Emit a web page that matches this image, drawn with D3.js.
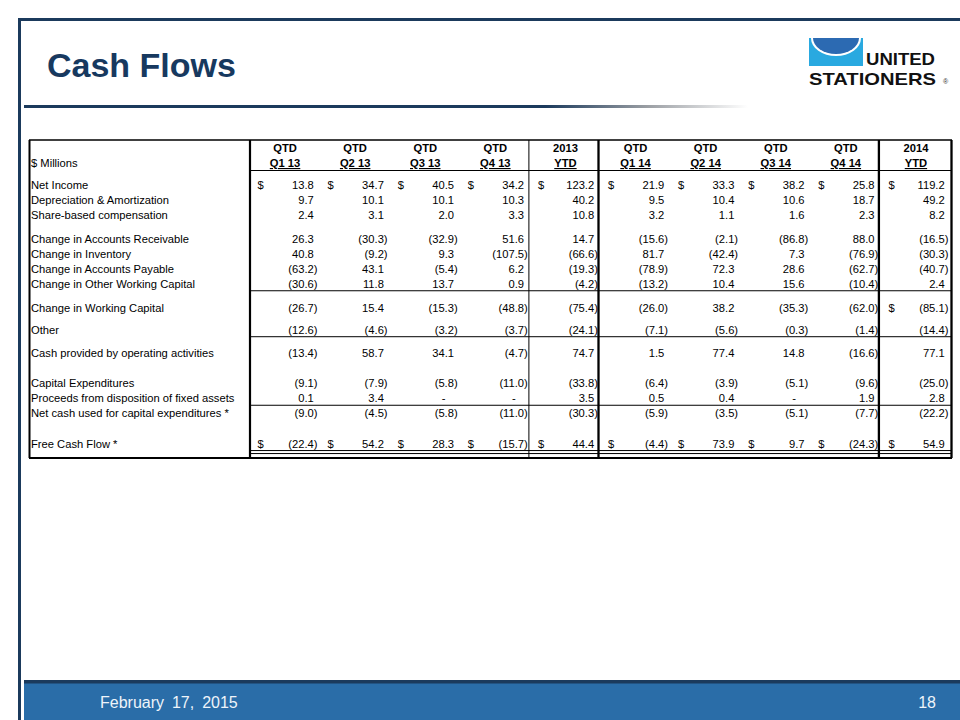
<!DOCTYPE html>
<html><head><meta charset="utf-8">
<script src="https://cdn.jsdelivr.net/npm/d3@7"></script>
<style>
html,body{margin:0;padding:0;background:#fff;}
svg{display:block;font-family:"Liberation Sans",Arial,Helvetica,sans-serif;}
</style></head><body>
<svg id="c" width="960" height="720"></svg>
<script>
// ---------- DATA ----------
const columns = ["Q1 13","Q2 13","Q3 13","Q4 13","2013 YTD","Q1 14","Q2 14","Q3 14","Q4 14","2014 YTD"];
const headerTop = ["QTD","QTD","QTD","QTD","2013","QTD","QTD","QTD","QTD","2014"];
const headerBottom = ["Q1 13","Q2 13","Q3 13","Q4 13","YTD","Q1 14","Q2 14","Q3 14","Q4 14","YTD"];
const rowLabels = [
  "Net Income",
  "Depreciation & Amortization",
  "Share-based compensation",
  "Change in Accounts Receivable",
  "Change in Inventory",
  "Change in Accounts Payable",
  "Change in Other Working Capital",
  "Change in Working Capital",
  "Other",
  "Cash provided by operating activities",
  "Capital Expenditures",
  "Proceeds from disposition of fixed assets",
  "Net cash used for capital expenditures *",
  "Free Cash Flow *"
];
const netIncome        = [13.8, 34.7, 40.5, 34.2, 123.2, 21.9, 33.3, 38.2, 25.8, 119.2];
const depAmort         = [9.7, 10.1, 10.1, 10.3, 40.2, 9.5, 10.4, 10.6, 18.7, 49.2];
const shareComp        = [2.4, 3.1, 2.0, 3.3, 10.8, 3.2, 1.1, 1.6, 2.3, 8.2];
const chgReceivable    = [26.3, -30.3, -32.9, 51.6, 14.7, -15.6, -2.1, -86.8, 88.0, -16.5];
const chgInventory     = [40.8, -9.2, 9.3, -107.5, -66.6, 81.7, -42.4, 7.3, -76.9, -30.3];
const chgPayable       = [-63.2, 43.1, -5.4, 6.2, -19.3, -78.9, 72.3, 28.6, -62.7, -40.7];
const chgOtherWC       = [-30.6, 11.8, 13.7, 0.9, -4.2, -13.2, 10.4, 15.6, -10.4, 2.4];
const chgWorkingCap    = [-26.7, 15.4, -15.3, -48.8, -75.4, -26.0, 38.2, -35.3, -62.0, -85.1];
const other            = [-12.6, -4.6, -3.2, -3.7, -24.1, -7.1, -5.6, -0.3, -1.4, -14.4];
const cashOperating    = [-13.4, 58.7, 34.1, -4.7, 74.7, 1.5, 77.4, 14.8, -16.6, 77.1];
const capex            = [-9.1, -7.9, -5.8, -11.0, -33.8, -6.4, -3.9, -5.1, -9.6, -25.0];
const proceeds         = [0.1, 3.4, 0, 0, 3.5, 0.5, 0.4, 0, 1.9, 2.8];
const netCapex         = [-9.0, -4.5, -5.8, -11.0, -30.3, -5.9, -3.5, -5.1, -7.7, -22.2];
const freeCashFlow     = [-22.4, 54.2, 28.3, -15.7, 44.4, -4.4, 73.9, 9.7, -24.3, 54.9];
const dollarRows = ["Net Income", "Free Cash Flow *"];
const dollarCells = [["Change in Working Capital", "2014 YTD"]];

const rowValues = [netIncome, depAmort, shareComp, chgReceivable, chgInventory, chgPayable,
  chgOtherWC, chgWorkingCap, other, cashOperating, capex, proceeds, netCapex, freeCashFlow];

// ---------- LAYOUT ----------
const svg = d3.select("#c");
const navy = "#1B3A5C";

// slide frame
svg.append("rect").attr("x",18).attr("y",18).attr("width",942).attr("height",3).attr("fill",navy);
svg.append("rect").attr("x",18).attr("y",18).attr("width",3).attr("height",702).attr("fill",navy);

// title
svg.append("text").attr("x",47).attr("y",77).attr("font-size",34).attr("font-weight","bold")
  .attr("fill","#17395F").text("Cash Flows");

// gradient rule under title
const defs = svg.append("defs");
const g = defs.append("linearGradient").attr("id","rule").attr("x1","0%").attr("x2","100%");
g.append("stop").attr("offset","0%").attr("stop-color",navy);
g.append("stop").attr("offset","72%").attr("stop-color",navy);
g.append("stop").attr("offset","86%").attr("stop-color","#9a9ea3");
g.append("stop").attr("offset","100%").attr("stop-color","#ffffff");
svg.append("rect").attr("x",24).attr("y",105).attr("width",724).attr("height",3).attr("fill","url(#rule)");

// logo
const logo = svg.append("g");
logo.append("rect").attr("x",809).attr("y",38).attr("width",54).attr("height",28).attr("fill","#29A9E0");
logo.append("path").attr("d","M811,38 A25,18 0 0 0 861,38 Z").attr("fill","#ffffff");
logo.append("path").attr("d","M813,38 A23,16 0 0 0 859,38 Z").attr("fill","#2C6AB2");
logo.append("text").attr("x",866).attr("y",65).attr("font-size",16).attr("font-weight","bold")
  .attr("fill","#111").attr("textLength",69).attr("lengthAdjust","spacingAndGlyphs").text("UNITED");
logo.append("text").attr("x",809).attr("y",85).attr("font-size",17).attr("font-weight","bold")
  .attr("fill","#111").attr("textLength",127).attr("lengthAdjust","spacingAndGlyphs").text("STATIONERS");
logo.append("text").attr("x",943).attr("y",84).attr("font-size",7).attr("fill","#333").text("®");

// footer
svg.append("rect").attr("x",24).attr("y",680).attr("width",936).attr("height",4).attr("fill",navy);
svg.append("rect").attr("x",24).attr("y",683.5).attr("width",936).attr("height",36.5).attr("fill","#2A6DA8");
svg.append("text").attr("x",100).attr("y",707.5).attr("font-size",16).attr("fill","#EEF4FA")
  .attr("word-spacing","3.5px").text("February 17, 2015");
svg.append("text").attr("x",936).attr("y",707.5).attr("font-size",16).attr("fill","#EEF4FA")
  .attr("text-anchor","end").text("18");

// ---------- TABLE ----------
const x = d3.scaleBand().domain(columns).range([250, 951]).paddingInner(0);
const step = x.step();
const gapBefore = [0,0,0,0.53,0,0,0,0.53,0.46,0.53,0.98,0,0,0.98];
let acc = 0;
const slot = rowLabels.map((r,i) => { acc += (i ? 1 : 0) + gapBefore[i]; return acc; });
const y = d3.scaleLinear().domain([0,1]).range([185, 200.2]);
const rowY = i => y(slot[i]);

const T = svg.append("g").attr("font-size",11.2).attr("fill","#000");
const tableTop = 140, tableBottom = 458, tableLeft = 29, tableRight = 952;

// borders
const lines = svg.append("g").attr("stroke","#000");
lines.append("line").attr("x1",tableLeft).attr("x2",tableRight).attr("y1",tableTop).attr("y2",tableTop).attr("stroke-width",1.5);
lines.append("line").attr("x1",tableLeft).attr("x2",tableRight).attr("y1",tableBottom).attr("y2",tableBottom).attr("stroke-width",2);
lines.append("line").attr("x1",tableLeft+0.5).attr("x2",tableLeft+0.5).attr("y1",tableTop).attr("y2",tableBottom).attr("stroke-width",2);
lines.append("line").attr("x1",tableRight-0.5).attr("x2",tableRight-0.5).attr("y1",tableTop).attr("y2",tableBottom).attr("stroke-width",2.3);
lines.append("line").attr("x1",x(columns[0])).attr("x2",x(columns[0])).attr("y1",tableTop).attr("y2",tableBottom).attr("stroke-width",2.2);
lines.append("line").attr("x1",x("2013 YTD")-1.5).attr("x2",x("2013 YTD")-1.5).attr("y1",tableTop).attr("y2",tableBottom).attr("stroke-width",1);
lines.append("line").attr("x1",x("Q1 14")-2).attr("x2",x("Q1 14")-2).attr("y1",tableTop).attr("y2",tableBottom).attr("stroke-width",2.3);
lines.append("line").attr("x1",x("2014 YTD")-2).attr("x2",x("2014 YTD")-2).attr("y1",tableTop).attr("y2",tableBottom).attr("stroke-width",2.3);

// horizontal inner rules (from label column to right)
const hRule = yy => lines.append("line").attr("x1",x(columns[0])).attr("x2",tableRight)
  .attr("y1",yy).attr("y2",yy).attr("stroke-width",1);
hRule(170.5);
hRule(rowY(6) + 6.5);
hRule(rowY(8) + 7);
hRule(rowY(11) + 7);
hRule(rowY(13) + 7);
hRule(rowY(13) + 10);

// header
T.append("text").attr("x",31).attr("y",167).text("$ Millions");
columns.forEach((c,i) => {
  const cx = x(c) + step/2;
  T.append("text").attr("x",cx).attr("y",152).attr("text-anchor","middle").attr("font-weight","bold").text(headerTop[i]);
  T.append("text").attr("x",cx).attr("y",167).attr("text-anchor","middle").attr("font-weight","bold")
    .style("text-decoration","underline").text(headerBottom[i]);
});

// rows
const f1 = d3.format(".1f");
const parenW = 3.7;
rowLabels.forEach((lab,i) => {
  const yy = rowY(i) + 4;
  T.append("text").attr("x",31).attr("y",yy).text(lab);
  rowValues[i].forEach((v,j) => {
    const col = columns[j];
    const right = x(col) + 67.5;
    const hasDollar = dollarRows.includes(lab) || dollarCells.some(d => d[0] === lab && d[1] === col);
    if (hasDollar) T.append("text").attr("x", x(col) + 7.5).attr("y",yy).text("$");
    if (v === 0) {
      T.append("text").attr("x", right - 14).attr("y",yy).attr("text-anchor","middle").text("-");
    } else if (v < 0) {
      T.append("text").attr("x", right).attr("y",yy).attr("text-anchor","end").text("(" + f1(-v) + ")");
    } else {
      T.append("text").attr("x", right - parenW).attr("y",yy).attr("text-anchor","end").text(f1(v));
    }
  });
});
</script>
</body></html>
